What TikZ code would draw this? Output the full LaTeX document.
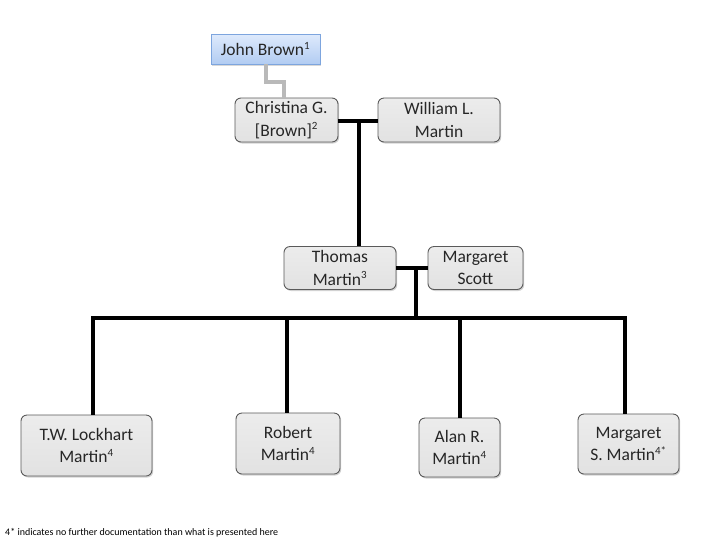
\documentclass[tikz,border=0pt]{standalone}
\usepackage{fontspec}
\setmainfont{Carlito}
\usetikzlibrary{shadows}
\definecolor{boxfill}{RGB}{226,226,226}
\definecolor{boxtop}{RGB}{236,236,236}
\definecolor{boxedge}{RGB}{90,90,90}
\definecolor{bluetop}{RGB}{222,234,252}
\definecolor{bluebot}{RGB}{178,204,242}
\definecolor{blueedge}{RGB}{125,165,222}
\definecolor{grayline}{RGB}{185,185,185}
\tikzset{
  person/.style={draw=boxedge, line width=0.9pt, rounded corners=6pt,
    top color=boxtop, bottom color=boxfill, align=center, inner sep=0pt,
    font=\fontsize{17.5}{22.5}\selectfont, text=black!85,
    drop shadow={shadow xshift=1.2pt, shadow yshift=-1.5pt, opacity=0.35}},
  rootbox/.style={draw=blueedge, line width=0.9pt, top color=bluetop, bottom color=bluebot,
    inner sep=0pt, font=\fontsize{17.5}{22.5}\selectfont, text=black!85,
    drop shadow={shadow xshift=1.2pt, shadow yshift=-1.5pt, opacity=0.3}},
  kin/.style={line width=3.8pt, black},
  ancestry/.style={line width=4pt, grayline},
}
\newcommand{\sps}[1]{\textsuperscript{\fontsize{11}{11}\selectfont #1}}
\begin{document}
\begin{tikzpicture}[x=1pt,y=-1pt]
\useasboundingbox[fill=white] (0,0) rectangle (719,539);
% nodes
\node[rootbox, minimum width=109pt, minimum height=30pt] (john) at (265.5,49) {John Brown\sps{1}};
\node[person, minimum width=103pt, minimum height=44pt] (christina) at (286.5,120) {Christina G.\\{[}Brown{]}\sps{2}};
\node[person, minimum width=122pt, minimum height=44pt] (william) at (439,120) {William L.\\Martin};
\node[person, minimum width=112pt, minimum height=43pt] (thomas) at (340,268) {Thomas\\Martin\sps{3}};
\node[person, minimum width=95pt, minimum height=43pt] (margs) at (475.5,268) {Margaret\\Scott};
\node[person, minimum width=131pt, minimum height=61pt] (tw) at (86.5,445.5) {T.W. Lockhart\\Martin\sps{4}};
\node[person, minimum width=104pt, minimum height=61pt] (robert) at (288,443.5) {Robert\\Martin\sps{4}};
\node[person, minimum width=81pt, minimum height=59pt] (alan) at (459.5,447.5) {Alan R.\\Martin\sps{4}};
\node[person, minimum width=101pt, minimum height=60pt] (margm) at (628.5,444) {Margaret\\S. Martin\sps{4*}};
% coordinates
\coordinate (cw) at (359,121);
\coordinate (tm) at (416,268);
\coordinate (busmid) at (416,318);
% ancestry connector
\draw[ancestry] (john.south -| 266,0) |- (284,82) -- (christina.north -| 284,0);
% marriage 1
\draw[kin] (christina.east |- cw) -- (william.west |- cw);
\draw[kin] (cw) -- (thomas.north -| cw);
% marriage 2
\draw[kin] (thomas.east |- tm) -- (margs.west |- tm);
\draw[kin] (tm) -- (busmid);
% children bus
\draw[kin] (tw.north -| 93,0) |- (busmid) -| (margm.north -| 625,0);
\draw[kin] (robert.north -| 287,0) -- (287,318);
\draw[kin] (alan.north -| 460,0) -- (460,318);
% footnote
\node[anchor=west, inner sep=0pt, font=\fontsize{10}{12}\selectfont] (note) at (5,533) {4* indicates no further documentation than what is presented here};
\end{tikzpicture}
\end{document}
